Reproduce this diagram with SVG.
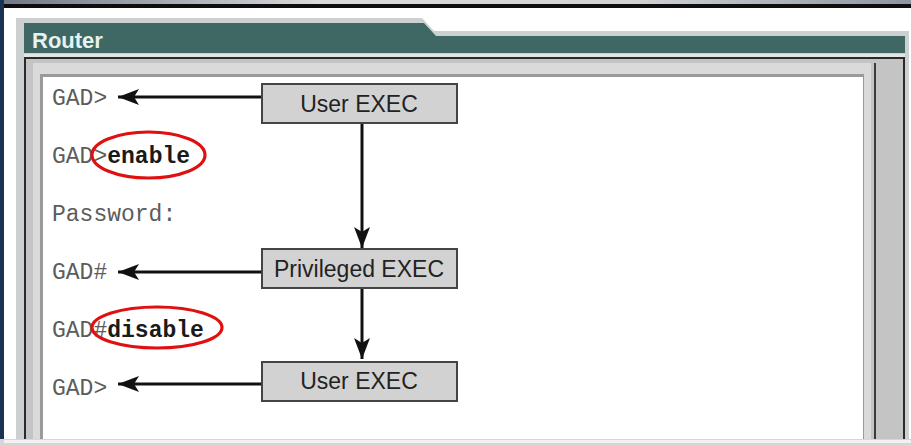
<svg xmlns="http://www.w3.org/2000/svg" width="911" height="446" viewBox="0 0 911 446">
  <defs>
    <linearGradient id="topBar" x1="0" y1="0" x2="1" y2="0">
      <stop offset="0" stop-color="#6f7885"/>
      <stop offset="0.35" stop-color="#d9dadb"/>
      <stop offset="0.7" stop-color="#d0d2d4"/>
      <stop offset="1" stop-color="#8d95a0"/>
    </linearGradient>
    <marker id="arrowHead" viewBox="0 0 22 18" refX="21" refY="9" markerWidth="22" markerHeight="18" markerUnits="userSpaceOnUse" orient="auto">
      <path d="M21 9 L0 1 L5 9 L0 17 Z" fill="#111"/>
    </marker>
    <style>
      .mono { font-family: "Liberation Mono", "DejaVu Sans Mono", monospace; font-size: 23px; fill: #5c5c5c; }
      .cmd { font-weight: bold; fill: #1a1a1a; }
      .node rect { fill: #d2d2d2; stroke: #444; stroke-width: 2; }
      .node text { font-family: "Liberation Sans", Arial, sans-serif; font-size: 23px; fill: #222; text-anchor: middle; }
      .link { stroke: #111; stroke-width: 3; fill: none; marker-end: url(#arrowHead); }
      .ring { fill: none; stroke: #e01010; stroke-width: 3.2; }
    </style>
  </defs>

  <!-- window chrome -->
  <g id="frame">
    <rect x="0" y="0" width="911" height="446" fill="#ffffff"/>
    <rect x="0" y="0" width="911" height="4" fill="url(#topBar)"/>
    <rect x="0" y="4" width="911" height="4" fill="#0e0e0e"/>
    <rect x="0" y="0" width="4" height="446" fill="#1b3352"/>
    <!-- panel with tabbed title -->
    <path d="M16 18 H422 L434 31 H909 V446 H16 Z" fill="#cdd0d0"/>
    <path d="M24 23 H424 L436 36 H905 V53 H24 Z" fill="#3f6763"/>
    <text x="32" y="48" font-family="Liberation Sans, Arial, sans-serif" font-size="22" font-weight="bold" fill="#e6f2f0">Router</text>
    <rect x="24" y="54" width="881" height="3" fill="#e4e6e6"/>
    <!-- content frame -->
    <rect x="25" y="58" width="879" height="382" fill="#c4c4c4" stroke="#2a2a2a" stroke-width="2"/>
    <rect x="33" y="63" width="838" height="377" fill="#dadada"/>
    <rect x="40" y="74" width="824" height="366" fill="#9a9a9a"/>
    <rect x="43" y="77" width="820" height="363" fill="#ffffff"/>
    <line x1="875" y1="63" x2="875" y2="440" stroke="#3a3a3a" stroke-width="2"/>
    <rect x="0" y="439" width="911" height="7" fill="#d6d6d6"/>
    <rect x="4" y="440" width="907" height="3" fill="#f2f2f2"/>
  </g>

  <!-- terminal session -->
  <g id="terminal-text">
    <text class="mono" x="52" y="105">GAD&gt;</text>
    <text class="mono" x="52" y="163">GAD&gt;<tspan class="cmd">enable</tspan></text>
    <text class="mono" x="52" y="221">Password:</text>
    <text class="mono" x="52" y="279">GAD#</text>
    <text class="mono" x="52" y="337">GAD#<tspan class="cmd">disable</tspan></text>
    <text class="mono" x="52" y="395">GAD&gt;</text>
  </g>

  <!-- connectors -->
  <g id="connectors">
    <line class="link" x1="262" y1="97" x2="118" y2="97"/>
    <line class="link" x1="262" y1="272" x2="118" y2="272"/>
    <line class="link" x1="262" y1="384" x2="118" y2="384"/>
    <line class="link" x1="362" y1="124" x2="362" y2="248"/>
    <line class="link" x1="362" y1="289" x2="362" y2="359"/>
  </g>

  <!-- mode nodes -->
  <g id="node-user-exec" class="node">
    <rect x="262" y="84" width="195" height="39"/>
    <text x="359" y="112">User EXEC</text>
  </g>
  <g id="node-privileged-exec" class="node">
    <rect x="262" y="249" width="195" height="39"/>
    <text x="359" y="277">Privileged EXEC</text>
  </g>
  <g id="node-user-exec-return" class="node">
    <rect x="262" y="362" width="195" height="39"/>
    <text x="359" y="389">User EXEC</text>
  </g>

  <!-- command highlights -->
  <g id="highlights">
    <ellipse class="ring" cx="148.5" cy="155" rx="56.5" ry="23"/>
    <ellipse class="ring" cx="157" cy="327.5" rx="65" ry="20.5"/>
  </g>
</svg>
